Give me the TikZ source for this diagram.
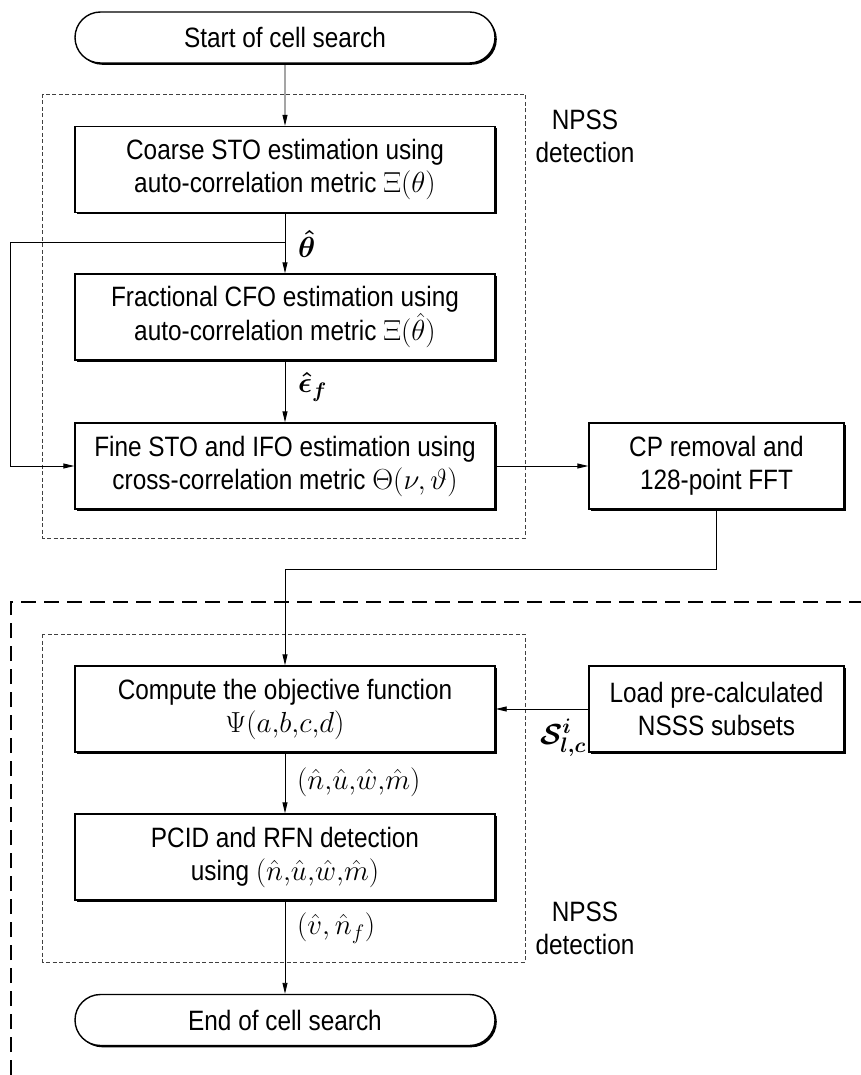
\RequirePackage{fix-cm}
\documentclass[tikz,border=0pt]{standalone}
\usepackage{fontspec}
\setmainfont{Liberation Sans}[FakeStretch=0.87]
\DeclareMathSizes{28}{29}{21}{15}
\usetikzlibrary{shapes.misc,arrows.meta,shadows}
\newcommand{\bigfnt}{\fontsize{28}{33}\selectfont}
\tikzset{
  box/.style={draw, line width=1.4pt, fill=white, minimum width=420pt, minimum height=86pt,
    inner sep=0pt, align=center, font=\bigfnt,
    drop shadow={shadow xshift=1.8pt, shadow yshift=-1.8pt, fill=black, opacity=1}},
  sidebox/.style={box, minimum width=255pt},
  term/.style={rounded rectangle, draw, line width=1.4pt, fill=white, minimum width=420pt,
    minimum height=51pt, inner sep=0pt, font=\bigfnt,
    drop shadow={shadow xshift=1.8pt, shadow yshift=-1.8pt, fill=black, opacity=1}},
  arr/.style={-{Triangle[length=11pt,width=5pt]}, line width=0.9pt},
  thindash/.style={draw=black!75, line width=0.6pt, dash pattern=on 4pt off 2.5pt},
  bigdash/.style={line width=2pt, dash pattern=on 15pt off 8pt},
  lbl/.style={font=\bigfnt, anchor=west, inner sep=0pt},
  boldlbl/.style={lbl, font=\bigfnt\boldmath},
  grp/.style={font=\bigfnt, align=center, inner sep=0pt}
}
\begin{document}
\begin{tikzpicture}[x=1pt,y=-1pt]
\useasboundingbox (0,0) rectangle (861,1075);
% group frames
\draw[thindash] (42.5,94) rectangle (525,538);
\draw[thindash] (42.5,634) rectangle (525,962);
\draw[bigdash] (11,1075) -- (11,602) -- (861,602);
\node[grp] (g1) at (585,136) {NPSS\\detection};
\node[grp] (g2) at (585,928) {NPSS\\detection};
% nodes
\node[term] (start) at (285,37.5) {Start of cell search};
\node[box] (b1) at (285,169.5) {Coarse STO estimation using\\auto-correlation metric $\Xi(\theta)$};
\node[box] (b2) at (285,317) {Fractional CFO estimation using\\auto-correlation metric $\Xi(\hat{\theta})$};
\node[box] (b3) at (285,466) {Fine STO and IFO estimation using\\cross-correlation metric $\Theta(\nu,\vartheta)$};
\node[sidebox] (cp) at (716.5,466) {CP removal and\\128-point FFT};
\node[box] (b4) at (285,709) {Compute the objective function\\$\Psi(a{,}b{,}c{,}d)$};
\node[sidebox] (ld) at (716.5,709) {Load pre-calculated\\NSSS subsets};
\node[box] (b5) at (285,857) {PCID and RFN detection\\using $(\hat{n}{,}\hat{u}{,}\hat{w}{,}\hat{m})$};
\node[term] (end) at (285,1020) {End of cell search};
% connectors
\coordinate (br) at (285,242);
\coordinate (bl) at (10,242);
\coordinate (c1) at (716.5,569);
\coordinate (c2) at (285,569);
\draw[arr] (start) -- (b1);
\draw[arr] (b1) -- (b2);
\draw[arr] (b2) -- (b3);
\draw[arr] (br) -- (bl) |- (b3.west);
\draw[arr] (b3) -- (cp);
\draw[arr] (cp.south) -- (c1) -- (c2) -- (b4.north);
\draw[arr] (ld) -- (b4);
\draw[arr] (b4) -- (b5);
\draw[arr] (b5) -- (end);
% labels
\node[boldlbl] (l1) at (298,244) {$\hat{\theta}$};
\node[boldlbl] (l2) at (298,387) {$\hat{\epsilon}_f$};
\node[lbl] (l3) at (297,782) {$(\hat{n}{,}\hat{u}{,}\hat{w}{,}\hat{m})$};
\node[lbl] (l4) at (297,928) {$(\hat{v},\hat{n}_f)$};
\node[boldlbl] (l5) at (540,738) {$\mathcal{S}^{i}_{l,c}$};
\end{tikzpicture}
\end{document}
